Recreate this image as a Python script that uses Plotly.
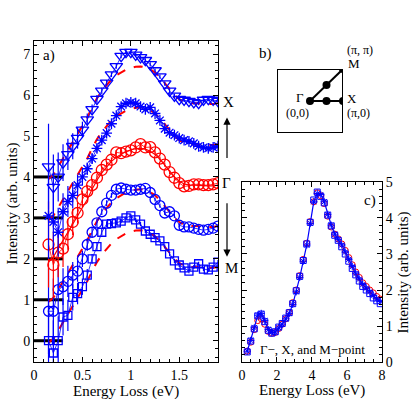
import plotly.graph_objects as go
import numpy as np

# ---- panel a: waterfall of spectra (offsets already included) ----
energy_a = [0.15, 0.20, 0.25, 0.30, 0.35, 0.40, 0.45, 0.50, 0.55, 0.60,
            0.65, 0.70, 0.75, 0.80, 0.85, 0.90, 0.95, 1.00, 1.05, 1.10,
            1.15, 1.20, 1.25, 1.30, 1.35, 1.40, 1.45, 1.50, 1.55, 1.60,
            1.65, 1.70, 1.75, 1.80, 1.85, 1.90]

x_point = [4.25, 3.75, 4.0, 4.35, 4.55, 4.75, 4.95, 5.15, 5.4, 5.65,
           5.9, 6.1, 6.3, 6.5, 6.7, 6.95, 7.05, 7.05, 6.98, 6.92,
           6.85, 6.75, 6.6, 6.45, 6.28, 6.1, 5.98, 5.9, 5.88, 5.85,
           5.82, 5.8, 5.88, 5.9, 5.88, 5.85]
xg_point = [3.05, 2.9, 2.65, 3.15, 3.4, 3.55, 3.8, 4.0, 4.2, 4.45,
            4.7, 4.9, 5.07, 5.3, 5.5, 5.72, 5.8, 5.82, 5.8, 5.72,
            5.65, 5.7, 5.55, 5.38, 5.18, 5.08, 5.02, 4.95, 4.9, 4.87,
            4.82, 4.75, 4.72, 4.7, 4.72, 4.75]
gamma_point = [2.35, 1.85, 2.15, 2.25, 2.6, 2.9, 3.12, 3.45, 3.65, 3.8,
               3.98, 4.17, 4.3, 4.42, 4.6, 4.58, 4.62, 4.65, 4.72, 4.8,
               4.72, 4.73, 4.6, 4.45, 4.3, 4.12, 3.98, 3.85, 3.77, 3.78,
               3.82, 3.82, 3.8, 3.8, 3.82, 3.85]
gm_point = [0.72, 0.72, 1.25, 1.32, 1.45, 1.6, 1.7, 2.0, 2.35, 2.65,
            2.88, 3.15, 3.36, 3.55, 3.7, 3.73, 3.7, 3.68, 3.68, 3.7,
            3.72, 3.62, 3.45, 3.3, 3.12, 3.15, 3.05, 2.82, 2.78, 2.78,
            2.75, 2.72, 2.7, 2.72, 2.75, 2.8]
m_point = [0.0, -0.3, 0.0, 0.58, 0.62, 1.06, 1.15, 1.32, 1.6, 2.0,
           2.3, 2.65, 2.85, 2.86, 2.88, 2.92, 3.0, 3.05, 2.95, 2.85,
           2.68, 2.6, 2.52, 2.44, 2.3, 2.12, 1.95, 1.85, 1.78, 1.7,
           1.8, 1.88, 1.75, 1.73, 1.8, 1.92]
gamma_ref = [1.95, 2.05, 2.25, 2.45, 2.65, 2.85, 3.05, 3.25, 3.45, 3.7,
             3.92, 4.1, 4.25, 4.38, 4.48, 4.56, 4.62, 4.66, 4.69, 4.7,
             4.68, 4.63, 4.55, 4.43, 4.3, 4.15, 4.0, 3.9, 3.83, 3.8,
             3.8, 3.8, 3.79, 3.78, 3.78, 3.8]
err_a = [1.05, 0.8, 0.6, 0.45, 0.38, 0.32, 0.26, 0.2, 0.15, 0.12,
         0.1, 0.08, 0.07, 0.06, 0.06, 0.05, 0.05, 0.05, 0.05, 0.05,
         0.05, 0.05, 0.05, 0.05, 0.05, 0.05, 0.05, 0.05, 0.05, 0.05,
         0.05, 0.05, 0.05, 0.05, 0.05, 0.05]
ref_shifts = [-2, -1, 1, 2]          # Gamma curve copied onto the other spectra
baselines = [0, 1, 2, 3, 4]
baseline_end = 0.3

# ---- panel c: full range spectra ----
energy_c = [0.3, 0.5, 0.7, 0.9, 1.1, 1.3, 1.5, 1.7, 1.9, 2.1,
            2.3, 2.5, 2.7, 2.9, 3.1, 3.3, 3.5, 3.7, 3.9, 4.1,
            4.3, 4.5, 4.7, 4.9, 5.1, 5.3, 5.5, 5.7, 5.9, 6.1,
            6.3, 6.5, 6.7, 6.9, 7.1, 7.3, 7.5, 7.7, 7.9]
c_gamma = [0.3, 0.55, 0.9, 1.15, 1.2, 1.05, 0.85, 0.8, 0.82, 0.93,
           1.05, 1.2, 1.38, 1.65, 2.0, 2.4, 2.85, 3.3, 3.9, 4.45,
           4.7, 4.62, 4.4, 4.05, 3.75, 3.55, 3.42, 3.28, 3.1, 2.9,
           2.7, 2.5, 2.35, 2.2, 2.1, 2.0, 1.92, 1.82, 1.75]
c_x = [0.3, 0.6, 0.95, 1.3, 1.35, 1.15, 0.9, 0.82, 0.83, 0.95,
       1.05, 1.2, 1.35, 1.6, 1.95, 2.35, 2.8, 3.25, 3.85, 4.45,
       4.68, 4.65, 4.45, 4.1, 3.8, 3.55, 3.4, 3.25, 3.05, 2.85,
       2.65, 2.45, 2.3, 2.15, 2.05, 1.95, 1.85, 1.75, 1.68]
c_m = [0.28, 0.58, 0.92, 1.28, 1.33, 1.12, 0.88, 0.8, 0.84, 0.97,
       1.07, 1.22, 1.37, 1.62, 1.98, 2.38, 2.82, 3.28, 3.88, 4.5,
       4.72, 4.6, 4.42, 4.08, 3.78, 3.52, 3.38, 3.2, 3.0, 2.8,
       2.6, 2.42, 2.25, 2.1, 2.0, 1.9, 1.78, 1.7, 1.62]

# ---- panel b: Brillouin zone points ----
bz_kx = [0, np.pi / 2, np.pi, np.pi / 2, np.pi]
bz_ky = [0, 0, 0, np.pi / 2, np.pi]

BLUE = "#0000ff"
RED = "#ff0000"
FONT = "Liberation Serif"

fig = go.Figure()

# black baseline markers
bx, by = [], []
for b in baselines:
    bx += [0, baseline_end, None]
    by += [b, b, None]
fig.add_trace(go.Scatter(x=bx, y=by, mode="lines", line=dict(color="black", width=3),
                         xaxis="x", yaxis="y"))

# dashed Gamma reference on other spectra
for s in ref_shifts:
    fig.add_trace(go.Scatter(x=energy_a, y=[v + s for v in gamma_ref], mode="lines",
                             line=dict(color=RED, width=2, dash="dash"),
                             xaxis="x", yaxis="y"))
fig.add_trace(go.Scatter(x=energy_a, y=gamma_ref, mode="lines",
                         line=dict(color=RED, width=1.2), xaxis="x", yaxis="y"))

series = [
    (m_point, "square-open", 8, BLUE),
    (gm_point, "circle-open", 10, BLUE),
    (gamma_point, "circle-open", 11, RED),
    (xg_point, "asterisk-open", 9, BLUE),
    (x_point, "triangle-down-open", 11, BLUE),
]
for ys, sym, sz, col in series:
    fig.add_trace(go.Scatter(
        x=energy_a, y=ys, mode="lines+markers",
        line=dict(color=col, width=0.8),
        marker=dict(symbol=sym, size=sz, color=col, line=dict(width=1.3, color=col)),
        error_y=dict(type="data", array=err_a, color=col, thickness=1.2, width=0),
        xaxis="x", yaxis="y"))

# panel c
fig.add_trace(go.Scatter(x=energy_c, y=c_gamma, mode="markers",
                         marker=dict(symbol="circle-open", size=6, color=RED, line=dict(width=1)),
                         xaxis="x2", yaxis="y2"))
fig.add_trace(go.Scatter(x=energy_c, y=c_m, mode="markers",
                         marker=dict(symbol="square-open", size=6, color=BLUE, line=dict(width=1)),
                         xaxis="x2", yaxis="y2"))
fig.add_trace(go.Scatter(x=energy_c, y=c_x, mode="lines+markers",
                         line=dict(color=BLUE, width=1.2),
                         marker=dict(symbol="asterisk-open", size=6, color=BLUE, line=dict(width=1)),
                         xaxis="x2", yaxis="y2"))

# panel b
fig.add_trace(go.Scatter(x=[0, np.pi, None, 0, np.pi], y=[0, 0, None, 0, np.pi], mode="lines",
                         line=dict(color="black", width=2), xaxis="x3", yaxis="y3"))
fig.add_trace(go.Scatter(x=bz_kx, y=bz_ky, mode="markers",
                         marker=dict(color="black", size=8), xaxis="x3", yaxis="y3"))
fig.add_shape(type="rect", xref="x3", yref="y3", x0=-np.pi, x1=np.pi, y0=-np.pi, y1=np.pi,
              line=dict(color="black", width=2))

axis_common = dict(showline=True, linecolor="black", linewidth=1, mirror="ticks",
                   ticks="inside", ticklen=5, tickcolor="black", showgrid=False, zeroline=False,
                   automargin=False,
                   tickfont=dict(family=FONT, size=14, color="black"))

fig.update_layout(
    width=415, height=399, margin=dict(l=0, r=0, t=0, b=0, autoexpand=False),
    paper_bgcolor="white", plot_bgcolor="white", showlegend=False,
    font=dict(family=FONT, color="black"),
    xaxis=dict(domain=[0.0819, 0.5253], range=[0, 1.9], dtick=0.5,
               minor=dict(dtick=0.1, ticks="inside", ticklen=3, tickcolor="black"),
               anchor="y", **axis_common),
    yaxis=dict(domain=[0.0927, 0.8972], range=[-0.52, 7.32], dtick=1,
               minor=dict(dtick=0.2, ticks="inside", ticklen=3, tickcolor="black"),
               anchor="x", **axis_common),
    xaxis2=dict(domain=[0.5831, 0.9205], range=[0, 8], dtick=2,
                minor=dict(dtick=0.5, ticks="inside", ticklen=3, tickcolor="black"),
                anchor="y2", **axis_common),
    yaxis2=dict(domain=[0.0927, 0.5439], range=[0, 5], dtick=1, side="right",
                minor=dict(dtick=0.2, ticks="inside", ticklen=3, tickcolor="black"),
                anchor="x2", **axis_common),
    xaxis3=dict(domain=[0.6675, 0.8265], range=[-np.pi, np.pi], visible=False, anchor="y3"),
    yaxis3=dict(domain=[0.6667, 0.8271], range=[-np.pi, np.pi], visible=False, anchor="x3"),
)

def label(text, x, y, size=13, xanchor="center", xref="paper", yref="paper", angle=0):
    fig.add_annotation(text=text, x=x, y=y, xref=xref, yref=yref, showarrow=False,
                       xanchor=xanchor, yanchor="middle", textangle=angle,
                       font=dict(family=FONT, size=size, color="black"))

# axis titles
label("Energy Loss (eV)", 0.304, 0.02, size=15)
label("Intensity (arb. units)", 0.029, 0.49, size=15, angle=-90)
label("Energy Loss (eV)", 0.752, 0.022, size=15)
label("Intensity (arb. units)", 0.972, 0.318, size=15, angle=-90)

label("a)", 0.098, 0.862, size=15, xanchor="left")
label("X", 0.5518, 5.82, size=15, yref="y")
label("Γ", 0.5446, 3.85, size=15, yref="y")
label("M", 0.559, 1.78, size=15, yref="y")
fig.add_annotation(x=0.547, y=5.45, xref="paper", yref="y", ax=0, ay=42, text="",
                   showarrow=True, arrowhead=2, arrowsize=1.2, arrowwidth=1.2, arrowcolor="black")
fig.add_annotation(x=0.547, y=2.05, xref="paper", yref="y", ax=0, ay=-55, text="",
                   showarrow=True, arrowhead=2, arrowsize=1.2, arrowwidth=1.2, arrowcolor="black")

label("b)", 0.6386, 0.867, size=15)
label("(π, π)", 0.8675, 0.8747, size=12)
label("M", 0.8337, 0.8396, size=13, xanchor="left")
label("Γ", 0.7229, 0.7544, size=13)
label("X", 0.848, 0.7519, size=13)
label("(0,0)", 0.718, 0.7168, size=12)
label("(π,0)", 0.8627, 0.7168, size=12)

label("c)", 0.8916, 0.4987, size=15)
label("Γ−, X, and M−point", 0.752, 0.125, size=13)

# drop the browser's default page margin so the figure sits at the top-left corner
fig.write_html("out.html", config={"displayModeBar": False},
               post_script="document.body.style.margin='0';")
